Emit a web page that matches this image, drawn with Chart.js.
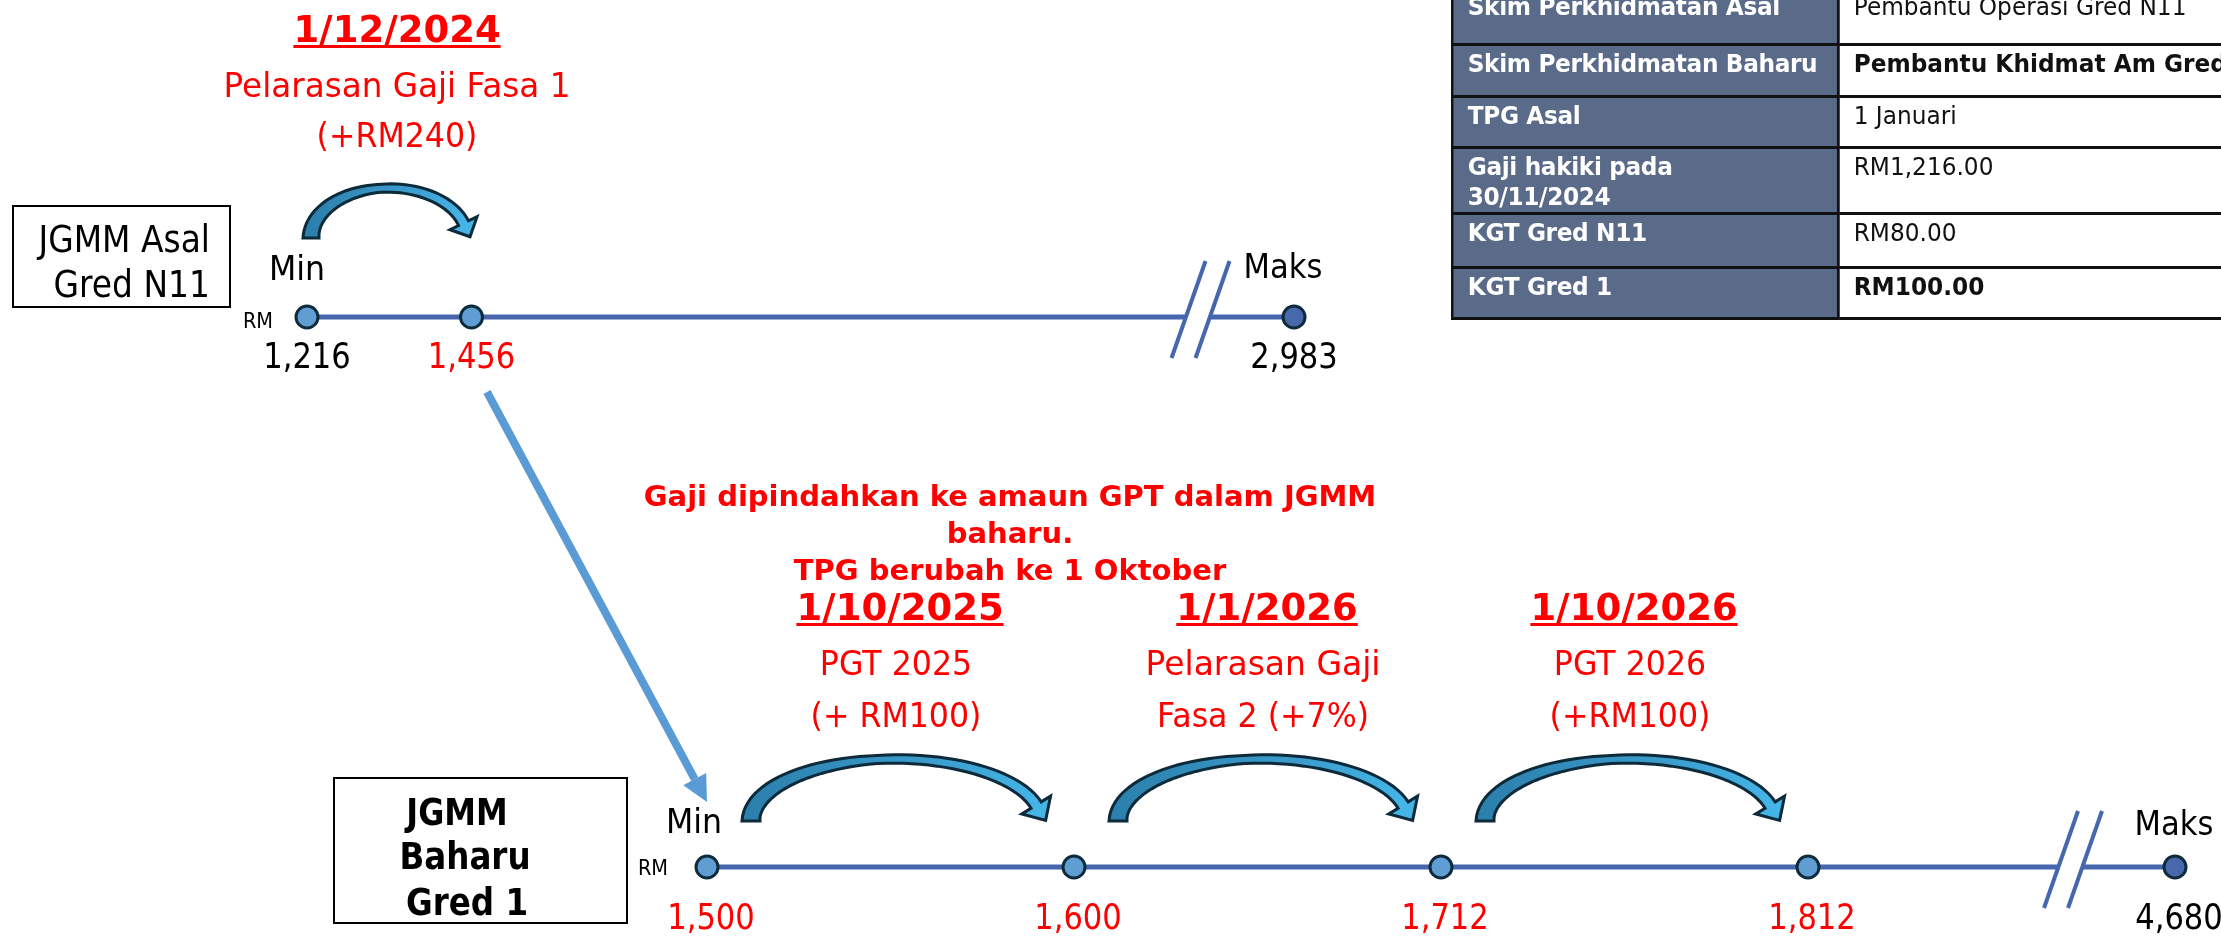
<!DOCTYPE html>
<html>
<head>
<meta charset="utf-8">
<script src="https://cdn.jsdelivr.net/npm/chart.js@4.4.1/dist/chart.umd.min.js"></script>
<style>
  html, body { margin: 0; padding: 0; background: #fff; overflow: hidden; }
  #wrap { position: relative; width: 2221px; height: 936px; overflow: hidden; }
  canvas { position: absolute; left: 0; top: 0; }
  #tbl { position: absolute; left: 1451px; top: -14px; transform: scaleX(0.93); transform-origin: 0 0; }
  table { width: 1115px; border-collapse: collapse; table-layout: fixed; font-family: "DejaVu Sans", sans-serif; font-size: 25px; line-height: 30px; }
  td { border: 3px solid #111; padding: 3px 15px 0 15px; vertical-align: top; white-space: nowrap; overflow: hidden; }
  td.h { background: #5a6a89; color: #fff; font-weight: bold; white-space: pre; letter-spacing: -0.4px; }
  td.v { background: #fff; color: #111; }
</style>
</head>
<body>
<div id="wrap">
  <canvas id="topRow" width="2221" height="936"></canvas>
  <canvas id="bottomRow" width="2221" height="936"></canvas>
  <div id="tbl"></div>
</div>
<script>
// salary steps (null = unlabelled steps hidden behind the axis break)
const topSalary = [1216, 1456, null, null, null, null, 2983];
const bottomSalary = [1500, 1600, 1712, 1812, 4680];

const topEventDates = ['1/12/2024'];
const topEventLines = [['Pelarasan Gaji Fasa 1', '(+RM240)']];
const bottomEventDates = ['1/10/2025', '1/1/2026', '1/10/2026'];
const bottomEventLines = [['PGT 2025', '(+ RM100)'], ['Pelarasan Gaji', 'Fasa 2 (+7%)'], ['PGT 2026', '(+RM100)']];

const noteLines = ['Gaji dipindahkan ke amaun GPT dalam JGMM', 'baharu.', 'TPG berubah ke 1 Oktober'];

const tableLabels = ['Skim Perkhidmatan Asal', 'Skim Perkhidmatan Baharu', 'TPG Asal', 'Gaji hakiki pada\n30/11/2024', 'KGT Gred N11', 'KGT Gred 1'];
const tableValues = ['Pembantu Operasi Gred N11', 'Pembantu Khidmat Am Gred H1', '1 Januari', 'RM1,216.00', 'RM80.00', 'RM100.00'];

// styles
const RED = '#ff0000';
const LINE = '#4667b0';
const DOT = '#5f9dd3', DOT_MAX = '#4867ad', DOT_EDGE = '#0d2b3b';
const FONT = '"DejaVu Sans", sans-serif';
const topLabelColors = ['#000', RED, null, null, null, null, '#000'];
const bottomLabelColors = [RED, RED, RED, RED, '#000'];
const valueBold = [false, true, false, false, false, true];
const rowHeights = [57, 52, 51, 66, 54, 51];

function fmt(v) { return v === null ? '' : v.toLocaleString('en-US'); }

function txt(ctx, s, x, y, size, o) {
  o = o || {};
  ctx.save();
  ctx.font = (o.bold ? 'bold ' : '') + size + 'px ' + FONT;
  ctx.fillStyle = o.color || '#000';
  ctx.textBaseline = 'alphabetic';
  ctx.textAlign = o.align || 'center';
  ctx.translate(x, y);
  ctx.scale(o.sx || 1, 1);
  ctx.fillText(s, 0, 0);
  if (o.underline) {
    const w = ctx.measureText(s).width;
    const x0 = ctx.textAlign === 'center' ? -w / 2 : (ctx.textAlign === 'right' ? -w : 0);
    ctx.fillRect(x0, 3, w, 3);
  }
  ctx.restore();
}

function curvedArrow(ctx, x0, x1, baseY, a) {
  const cx = (x0 + x1) / 2, rx = (x1 - x0) / 2, ry = a.ry;
  const thEnd = Math.PI - a.cut, N = 48;
  const outer = [], inner = [];
  let B, nB;
  for (let i = 0; i <= N; i++) {
    const th = thEnd * i / N, u = i / N;
    const t = u < 0.5 ? a.tFoot + (a.tTop - a.tFoot) * u * 2 : a.tTop + (a.tEnd - a.tTop) * (u - 0.5) * 2;
    const px = cx - rx * Math.cos(th), py = baseY - ry * Math.sin(th);
    let nx = (px - cx) / (rx * rx), ny = (py - baseY) / (ry * ry);
    const nl = Math.hypot(nx, ny); nx /= nl; ny /= nl;
    outer.push([px + nx * t / 2, py + ny * t / 2]);
    inner.push([px - nx * t / 2, py - ny * t / 2]);
    if (i === N) { B = [px, py]; nB = [nx, ny]; }
  }
  let dx = rx * Math.sin(thEnd), dy = -ry * Math.cos(thEnd);
  const dl = Math.hypot(dx, dy); dx /= dl; dy /= dl;
  ctx.save();
  ctx.beginPath();
  outer.forEach((p, i) => i ? ctx.lineTo(p[0], p[1]) : ctx.moveTo(p[0], p[1]));
  ctx.lineTo(B[0] + nB[0] * a.hw, B[1] + nB[1] * a.hw);
  ctx.lineTo(B[0] + dx * a.hl, B[1] + dy * a.hl);
  ctx.lineTo(B[0] - nB[0] * a.hw, B[1] - nB[1] * a.hw);
  for (let i = N; i >= 0; i--) ctx.lineTo(inner[i][0], inner[i][1]);
  ctx.closePath();
  const g = ctx.createLinearGradient(x0, 0, x1, 0);
  g.addColorStop(0, '#2c80ad');
  g.addColorStop(0.6, '#3a9bcb');
  g.addColorStop(1, '#45b5e8');
  ctx.fillStyle = g;
  ctx.fill();
  ctx.lineWidth = 3;
  ctx.lineJoin = 'miter';
  ctx.strokeStyle = '#0c2a3a';
  ctx.stroke();
  ctx.restore();
}

function breakMark(ctx, c, y) {
  ctx.save();
  ctx.strokeStyle = '#fff';
  ctx.lineWidth = 9;
  ctx.beginPath(); ctx.moveTo(c - 11, y); ctx.lineTo(c + 11, y); ctx.stroke();
  ctx.strokeStyle = LINE;
  ctx.lineWidth = 4;
  [-12, 12].forEach(off => {
    ctx.beginPath();
    ctx.moveTo(c + off - 14.4, y + 41);
    ctx.lineTo(c + off + 19.6, y - 56);
    ctx.stroke();
  });
  ctx.restore();
}

function box(ctx, x, y, w, h) {
  ctx.save();
  ctx.strokeStyle = '#000';
  ctx.lineWidth = 2;
  ctx.strokeRect(x, y, w, h);
  ctx.restore();
}

function rowDataset(salary) {
  const last = salary.length - 1;
  return {
    data: salary.map(v => v === null ? null : 0),
    spanGaps: true,
    borderColor: LINE,
    borderWidth: 5,
    pointRadius: 11,
    pointBorderWidth: 3,
    pointBorderColor: DOT_EDGE,
    pointBackgroundColor: salary.map((v, i) => i === last ? DOT_MAX : DOT),
    clip: false,
    tension: 0
  };
}

function rowOptions(pad) {
  return {
    responsive: false,
    animation: false,
    events: [],
    layout: { padding: pad },
    plugins: { legend: { display: false }, tooltip: { enabled: false } },
    scales: { x: { display: false }, y: { display: false, min: -1, max: 1 } }
  };
}

const topDecor = {
  id: 'topDecor',
  afterDatasetsDraw(chart) {
    const ctx = chart.ctx, xs = chart.scales.x, Y = chart.scales.y.getPixelForValue(0);
    const X = i => xs.getPixelForValue(i);
    const last = topSalary.length - 1;

    breakMark(ctx, X(last - 1) + (X(last) - X(last - 1)) * 0.416, Y);

    topEventDates.forEach((d, i) => {
      const x0 = X(i) + 4, x1 = X(i + 1) - 4.5;
      curvedArrow(ctx, x0, x1, Y - 79, { ry: 50, tFoot: 16, tTop: 8, tEnd: 11, hw: 15, hl: 15, cut: 0.3 });
      const mid = (x0 + x1) / 2 + 8;
      txt(ctx, d, mid, 42, 37, { bold: true, color: RED, underline: true });
      txt(ctx, topEventLines[i][0], mid, 97, 34, { color: RED, sx: 0.96 });
      txt(ctx, topEventLines[i][1], mid, 147, 34, { color: RED, sx: 0.93 });
    });

    topSalary.forEach((v, i) => {
      if (v === null) return;
      txt(ctx, fmt(v), X(i), Y + 51, 36, { color: topLabelColors[i], sx: 0.85 });
    });
    txt(ctx, 'Min', X(0) - 10, Y - 37, 34, { sx: 0.93 });
    txt(ctx, 'Maks', X(last) - 11, Y - 39, 34, { sx: 0.9 });
    txt(ctx, 'RM', X(0) - 49, Y + 11, 22, { sx: 0.88 });

    box(ctx, 13, 206, 217, 101);
    txt(ctx, 'JGMM Asal', 210, 252, 37, { align: 'right', sx: 0.89 });
    txt(ctx, 'Gred N11', 210, 297, 37, { align: 'right', sx: 0.89 });
  }
};

const chartTop = new Chart(document.getElementById('topRow'), {
  type: 'line',
  data: { labels: topSalary.map(fmt), datasets: [rowDataset(topSalary)] },
  options: rowOptions({ left: 307, right: 927, top: 307, bottom: 609 }),
  plugins: [topDecor]
});

const bottomDecor = {
  id: 'bottomDecor',
  afterDatasetsDraw(chart) {
    const ctx = chart.ctx, xs = chart.scales.x, Y = chart.scales.y.getPixelForValue(0);
    const X = i => xs.getPixelForValue(i);
    const last = bottomSalary.length - 1;

    breakMark(ctx, X(last - 1) + (X(last) - X(last - 1)) * 0.715, Y);

    bottomEventDates.forEach((d, i) => {
      const x0 = X(i) + 44, x1 = X(i + 1) - 33;
      curvedArrow(ctx, x0, x1, Y - 46, { ry: 62, tFoot: 18, tTop: 8, tEnd: 12, hw: 17, hl: 18, cut: 0.26 });
      const mid = (x0 + x1) / 2;
      txt(ctx, d, mid + 4, 620, 37, { bold: true, color: RED, underline: true });
      txt(ctx, bottomEventLines[i][0], mid, 675, 34, { color: RED, sx: i === 1 ? 0.97 : 0.93 });
      txt(ctx, bottomEventLines[i][1], mid, 727, 34, { color: RED, sx: 0.93 });
    });

    bottomSalary.forEach((v, i) => {
      txt(ctx, fmt(v), X(i) + 4, Y + 62, 36, { color: bottomLabelColors[i], sx: 0.85 });
    });
    txt(ctx, 'Min', X(0) - 13, Y - 34, 34, { sx: 0.93 });
    txt(ctx, 'Maks', X(last) - 1, Y - 32, 34, { sx: 0.9 });
    txt(ctx, 'RM', X(0) - 54, Y + 8, 22, { sx: 0.88 });

    box(ctx, 334, 778, 293, 145);
    txt(ctx, 'JGMM', 457, 825, 37, { bold: true, sx: 0.86 });
    txt(ctx, 'Baharu', 465, 869, 37, { bold: true, sx: 0.88 });
    txt(ctx, 'Gred 1', 467, 915, 37, { bold: true, sx: 0.88 });

    const nb = [506, 543, 580];
    noteLines.forEach((s, i) => txt(ctx, s, 1010, nb[i], 29, { bold: true, color: RED, sx: 1.0 }));

    // transfer arrow from the 1,456 step to the new Min
    const sx0 = chartTop.scales.x.getPixelForValue(1) + 15.5;
    const sy0 = chartTop.scales.y.getPixelForValue(0) + 75;
    const tx = X(0), ty = Y - 65;
    let dx = tx - sx0, dy = ty - sy0;
    const dl = Math.hypot(dx, dy); dx /= dl; dy /= dl;
    const hl = 26, hw = 13;
    const bx = tx - dx * hl, by = ty - dy * hl;
    ctx.save();
    ctx.strokeStyle = '#5b9bd5';
    ctx.fillStyle = '#5b9bd5';
    ctx.lineWidth = 8;
    ctx.beginPath(); ctx.moveTo(sx0, sy0); ctx.lineTo(bx, by); ctx.stroke();
    ctx.beginPath();
    ctx.moveTo(tx, ty);
    ctx.lineTo(bx - dy * hw, by + dx * hw);
    ctx.lineTo(bx + dy * hw, by - dx * hw);
    ctx.closePath();
    ctx.fill();
    ctx.restore();
  }
};

const chartBottom = new Chart(document.getElementById('bottomRow'), {
  type: 'line',
  data: { labels: bottomSalary.map(fmt), datasets: [rowDataset(bottomSalary)] },
  options: rowOptions({ left: 707, right: 46, top: 857, bottom: 59 }),
  plugins: [bottomDecor]
});

// info table
let html = '<table><colgroup><col style="width:415px"><col style="width:700px"></colgroup>';
tableLabels.forEach((lab, i) => {
  html += '<tr style="height:' + rowHeights[i] + 'px"><td class="h">' + lab + '</td>' +
    '<td class="v" style="font-weight:' + (valueBold[i] ? 'bold' : 'normal') + '">' + tableValues[i] + '</td></tr>';
});
html += '</table>';
document.getElementById('tbl').innerHTML = html;
</script>
</body>
</html>
